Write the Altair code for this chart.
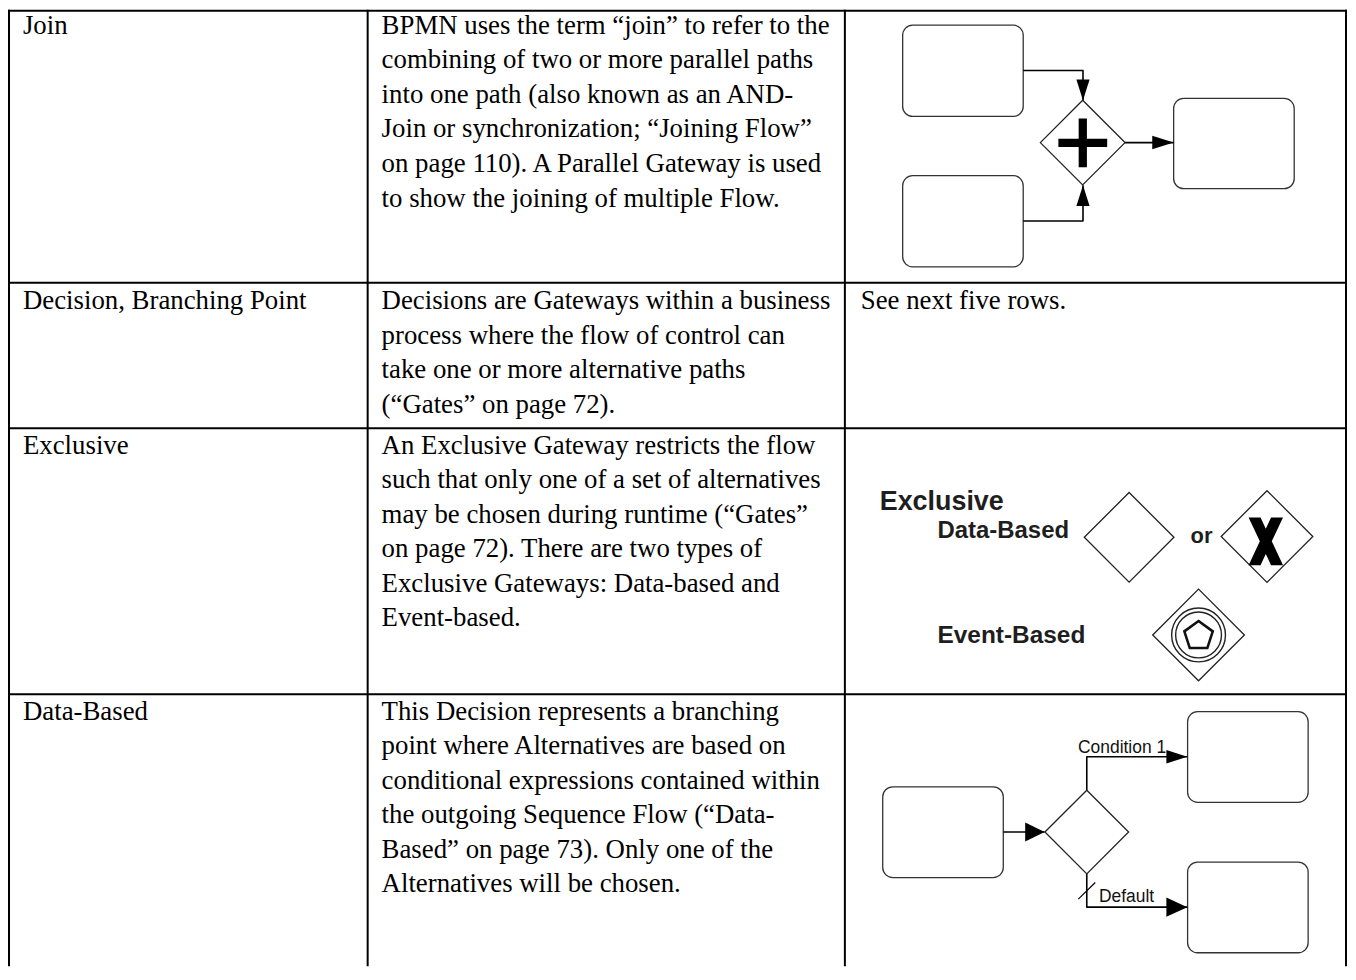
import altair as alt
import pandas as pd
import math

W, H = 1345, 960
X0, Y0 = 8, 8

# ---------------- table ----------------
col_x = [9, 369, 848, 1351]
row_y = [9, 282, 428, 695]
table_end = 968

terms = ["Join", "Decision, Branching Point", "Exclusive", "Data-Based"]
descriptions = [
    ["BPMN uses the term \u201cjoin\u201d to refer to the",
     "combining of two or more parallel paths",
     "into one path (also known as an AND-",
     "Join or synchronization; \u201cJoining Flow\u201d",
     "on page 110). A Parallel Gateway is used",
     "to show the joining of multiple Flow."],
    ["Decisions are Gateways within a business",
     "process where the flow of control can",
     "take one or more alternative paths",
     "(\u201cGates\u201d on page 72)."],
    ["An Exclusive Gateway restricts the flow",
     "such that only one of a set of alternatives",
     "may be chosen during runtime (\u201cGates\u201d",
     "on page 72). There are two types of",
     "Exclusive Gateways: Data-based and",
     "Event-based."],
    ["This Decision represents a branching",
     "point where Alternatives are based on",
     "conditional expressions contained within",
     "the outgoing Sequence Flow (\u201cData-",
     "Based\u201d on page 73). Only one of the",
     "Alternatives will be chosen."],
]
notes = ["", "See next five rows.", "", ""]
first_baseline = [32, 308.5, 453.5, 720.5]
line_gap = 34.7
text_x = [23, 383, 864]

# ---------------- diagrams ----------------
box_x1 = [906, 906, 1178, 886, 1192, 1192]
box_x2 = [1027, 1027, 1299, 1007, 1313, 1313]
box_y1 = [23.5, 174.5, 97, 788, 712.5, 863.5]
box_y2 = [115, 266, 187.5, 879, 803.5, 954.5]

gate_x = [1086.7, 1133.3, 1271.7, 1203, 1090.8]
gate_y = [141.3, 537.5, 536.7, 635.5, 833.3]
gate_r = [42.5, 45, 46, 46, 42]

flow_paths = [
    [(1027, 69), (1087, 69), (1087, 99)],
    [(1027, 220), (1087, 220), (1087, 184)],
    [(1129, 141.3), (1178, 141.3)],
    [(1007, 833.3), (1048.5, 833.3)],
    [(1090.8, 791.3), (1090.8, 757.7), (1191.7, 757.7)],
    [(1090.8, 875.3), (1090.8, 908.7), (1191.7, 908.7)],
]
slash_path = [(1082.3, 900.7), (1099.3, 884)]

arrow_tip_x = [1087, 1087, 1178, 1048.5, 1191.7, 1191.7]
arrow_tip_y = [99, 184, 141.3, 833.3, 757.7, 908.7]
arrow_angle = [90, 270, 0, 0, 0, 0]
arrow_len = [21, 21, 21.5, 19.5, 21, 21]
arrow_half = [6.6, 6.6, 6.8, 9.6, 6.8, 9.6]

plus_xy = (1086.8, 141.5)
plus_half = 24.5
x_mark_xy = (1270.5, 541.5)
x_mark_half = 24
ring_r = [27, 23]
ring_xy = (1203, 635.5)
pentagon_r = 15

bold_labels = ["Exclusive", "Data-Based", "or", "Event-Based"]
bold_x = [883, 941, 1195, 941]
bold_y = [510.5, 538.5, 543.3, 643.3]
bold_size = [27, 24, 22, 24.5]

flow_labels = ["Condition 1", "Default"]
flow_label_x = [1082, 1103]
flow_label_y = [754, 904]

# ---------------- build tables ----------------
xs = alt.Scale(domain=[X0, X0 + W], nice=False, zero=False)
ys = alt.Scale(domain=[Y0, Y0 + H], nice=False, zero=False, reverse=True)


def X(f):
    return alt.X(f, type="quantitative", scale=xs, axis=None)


def Y(f):
    return alt.Y(f, type="quantitative", scale=ys, axis=None)


rules = []
for yy in row_y:
    rules.append(dict(x=col_x[0] - 1, x2=col_x[-1] + 1, y=yy, y2=yy))
for xx in col_x:
    rules.append(dict(x=xx, x2=xx, y=row_y[0] - 1, y2=table_end))
rules_df = pd.DataFrame(rules)

body = []
for r in range(4):
    body.append(dict(x=text_x[0], y=first_baseline[r], t=terms[r]))
    for i, line in enumerate(descriptions[r]):
        body.append(dict(x=text_x[1], y=first_baseline[r] + i * line_gap, t=line))
    if notes[r]:
        body.append(dict(x=text_x[2], y=first_baseline[r], t=notes[r]))
body_df = pd.DataFrame(body)

boxes_df = pd.DataFrame(dict(x=box_x1, x2=box_x2, y=box_y1, y2=box_y2))

flow_rows = []
for s, path in enumerate(flow_paths):
    for o, (px, py) in enumerate(path):
        flow_rows.append(dict(x=px, y=py, seg=s, o=o))
flow_df = pd.DataFrame(flow_rows)
slash_df = pd.DataFrame([dict(x=px, y=py, o=o) for o, (px, py) in enumerate(slash_path)])

gates_df = pd.DataFrame(dict(x=gate_x, y=gate_y, sz=[(2 * r) ** 2 for r in gate_r]))

arrows = []
for tx, ty, ang, L, hw in zip(arrow_tip_x, arrow_tip_y, arrow_angle, arrow_len, arrow_half):
    k = round(hw / (L / 2), 3)
    dx = math.cos(math.radians(ang)) * L / 2
    dy = math.sin(math.radians(ang)) * L / 2
    arrows.append(dict(x=tx - dx, y=ty - dy, ang=ang, sz=L * L,
                       shp=f"M-1,{-k}L1,0L-1,{k}Z"))
arrows_df = pd.DataFrame(arrows)

t = round(4.15 / plus_half, 3)
plus_path = (f"M{-t},-1H{t}V{-t}H1V{t}H{t}V1H{-t}V{t}H-1V{-t}H{-t}Z")
x_path = ("M-0.72,-1L-0.22,-1L0,-0.53L0.22,-1L0.72,-1L0.25,0L0.72,1"
          "L0.22,1L0,0.53L-0.22,1L-0.72,1L-0.25,0Z")
glyph_df = pd.DataFrame([
    dict(x=plus_xy[0], y=plus_xy[1], sz=(2 * plus_half) ** 2, shp=plus_path),
    dict(x=x_mark_xy[0], y=x_mark_xy[1], sz=(2 * x_mark_half) ** 2, shp=x_path),
])

rings_df = pd.DataFrame(dict(x=[ring_xy[0]] * 2, y=[ring_xy[1]] * 2,
                             sz=[(2 * r) ** 2 for r in ring_r]))
pent = "M0,-1L0.951,-0.309L0.588,0.809L-0.588,0.809L-0.951,-0.309Z"
pent_df = pd.DataFrame(dict(x=[ring_xy[0]], y=[ring_xy[1] + 1], sz=[(2 * pentagon_r) ** 2]))

bold_df = pd.DataFrame(dict(x=bold_x, y=bold_y, t=bold_labels, fs=bold_size))
flowlab_df = pd.DataFrame(dict(x=flow_label_x, y=flow_label_y, t=flow_labels))

# ---------------- layers ----------------
l_rules = alt.Chart(rules_df).mark_rule(color="black", strokeWidth=2).encode(
    x=X("x"), x2="x2", y=Y("y"), y2="y2")

l_body = alt.Chart(body_df).mark_text(
    font="Liberation Serif", fontSize=26.9, align="left", baseline="alphabetic",
    color="black").encode(x=X("x"), y=Y("y"), text="t:N")

l_boxes = alt.Chart(boxes_df).mark_rect(
    cornerRadius=10, fill="white", stroke="#333333", strokeWidth=1.3).encode(
    x=X("x"), x2="x2", y=Y("y"), y2="y2")

l_flow = alt.Chart(flow_df).mark_line(color="black", strokeWidth=1.6,
                                      strokeJoin="round").encode(
    x=X("x"), y=Y("y"), detail="seg:N", order="o:Q")

l_slash = alt.Chart(slash_df).mark_line(color="black", strokeWidth=1.2).encode(
    x=X("x"), y=Y("y"), order="o:Q")

l_gates = alt.Chart(gates_df).mark_point(
    shape="diamond", filled=True, fill="white", stroke="#222222",
    strokeWidth=1.3, opacity=1).encode(
    x=X("x"), y=Y("y"), size=alt.Size("sz:Q", scale=None))

l_arrows = alt.Chart(arrows_df).mark_point(
    filled=True, color="black", opacity=1, strokeWidth=0).encode(
    x=X("x"), y=Y("y"), size=alt.Size("sz:Q", scale=None),
    shape=alt.Shape("shp:N", scale=None), angle=alt.Angle("ang:Q", scale=None))

l_glyph = alt.Chart(glyph_df).mark_point(
    filled=True, color="black", opacity=1, strokeWidth=0).encode(
    x=X("x"), y=Y("y"), size=alt.Size("sz:Q", scale=None),
    shape=alt.Shape("shp:N", scale=None))

l_rings = alt.Chart(rings_df).mark_point(
    shape="circle", filled=False, color="#222222", strokeWidth=1.4, opacity=1).encode(
    x=X("x"), y=Y("y"), size=alt.Size("sz:Q", scale=None))

l_pent = alt.Chart(pent_df).mark_point(
    shape=pent, filled=False, color="#111111", strokeWidth=2.6, opacity=1).encode(
    x=X("x"), y=Y("y"), size=alt.Size("sz:Q", scale=None))

l_bold = alt.Chart(bold_df).mark_text(
    font="Liberation Sans", fontWeight="bold", align="left", baseline="alphabetic",
    color="#1e1e1e").encode(x=X("x"), y=Y("y"), text="t:N",
                            size=alt.Size("fs:Q", scale=None))

l_flowlab = alt.Chart(flowlab_df).mark_text(
    font="Liberation Sans", fontSize=17.5, align="left", baseline="alphabetic",
    color="#111111").encode(x=X("x"), y=Y("y"), text="t:N")

chart = alt.layer(
    l_boxes, l_flow, l_slash, l_gates, l_arrows, l_glyph, l_rings, l_pent,
    l_bold, l_flowlab, l_body, l_rules
).properties(width=W, height=H, padding=0, autosize="none",
             background="white").configure_view(stroke=None)

chart.save("out.html", embed_options={"renderer": "svg", "actions": False})
